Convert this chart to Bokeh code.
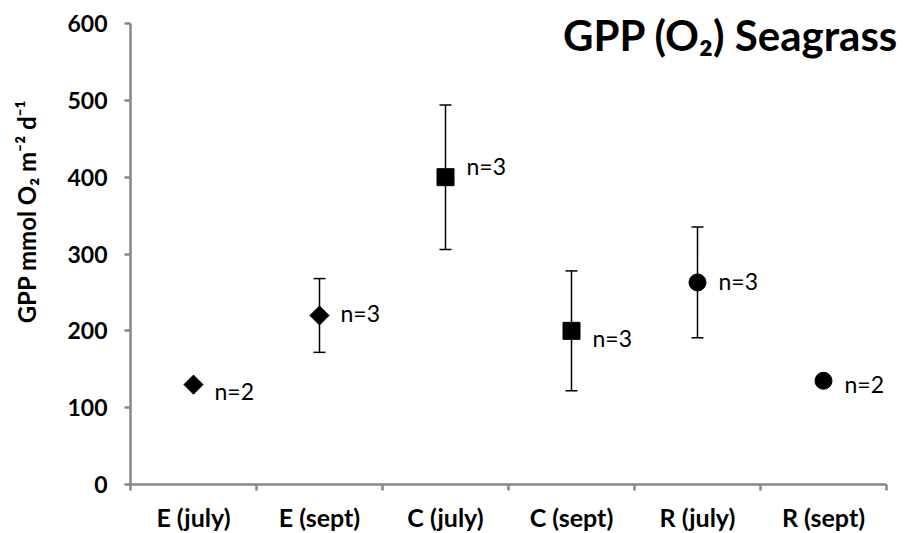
from bokeh.plotting import figure
from bokeh.models import Range1d, FixedTicker, ColumnDataSource, Whisker, TeeHead, Label
from bokeh.core.properties import value
from bokeh.embed import file_html
from bokeh.resources import INLINE

# ---- data ----
categories = ["E (july)", "E (sept)", "C (july)", "C (sept)", "R (july)", "R (sept)"]
gpp = [130, 220, 400, 200, 263, 135]
err = [0, 48, 94, 78, 72, 0]
n_labels = ["n=2", "n=3", "n=3", "n=3", "n=3", "n=2"]
y_ticks = [0, 100, 200, 300, 400, 500, 600]
y_max = 600

# ---- styles / layout ----
markers = ["square", "square", "square", "square", "circle", "circle"]
angles = [0.785398, 0.785398, 0, 0, 0, 0]
sizes = [13.5, 13.5, 17, 17, 17, 17]
label_dy = [6, -2, -11, 7, -1, 3]

W, H = 906, 533
PLOT_L, PLOT_R, PLOT_T, PLOT_B = 130, 886, 23, 484   # axes box in pixels
FONT = "Lato"
AXIS_GRAY = "#878787"

ncat = len(categories)
px_per_x = (PLOT_R - PLOT_L) / ncat
px_per_y = (PLOT_B - PLOT_T) / y_max
x_range = Range1d(-PLOT_L / px_per_x, (W - PLOT_L) / px_per_x)
y_range = Range1d(-(H - PLOT_B) / px_per_y, y_max + PLOT_T / px_per_y)

xs = [i + 0.5 for i in range(ncat)]
has_err = [e > 0 for e in err]

src = ColumnDataSource(dict(
    x=xs, y=gpp, marker=markers, angle=angles, size=sizes,
    label=n_labels, dy=label_dy,
))
err_src = ColumnDataSource(dict(
    x=[x for x, h in zip(xs, has_err) if h],
    upper=[g + e for g, e, h in zip(gpp, err, has_err) if h],
    lower=[g - e for g, e, h in zip(gpp, err, has_err) if h],
))

p = figure(width=W, height=H, output_backend="svg", toolbar_location=None,
           x_range=x_range, y_range=y_range,
           min_border_left=0, min_border_right=0, min_border_top=0,
           min_border_bottom=0, title=None)
p.outline_line_color = None
p.xgrid.visible = False
p.ygrid.visible = False
p.background_fill_color = "white"
p.border_fill_color = "white"

# y axis
ya = p.yaxis[0]
ya.fixed_location = 0
ya.bounds = (0, y_max)
ya.ticker = FixedTicker(ticks=y_ticks, minor_ticks=[])
ya.axis_line_color = AXIS_GRAY
ya.axis_line_width = 2.5
ya.major_tick_line_color = AXIS_GRAY
ya.major_tick_line_width = 2.5
ya.major_tick_out = 6
ya.major_tick_in = 0
ya.minor_tick_line_color = None
ya.major_label_text_font = FONT
ya.major_label_text_font_style = "bold"
ya.major_label_text_font_size = "23px"
ya.major_label_text_color = "black"
ya.major_label_standoff = 17

# x axis
xa = p.xaxis[0]
xa.fixed_location = 0
xa.bounds = (0, ncat)
xa.ticker = FixedTicker(ticks=xs, minor_ticks=list(range(ncat + 1)))
xa.major_label_overrides = {x: c for x, c in zip(xs, categories)}
xa.axis_line_color = AXIS_GRAY
xa.axis_line_width = 2.5
xa.major_tick_line_color = None
xa.major_tick_out = 0
xa.major_tick_in = 0
xa.minor_tick_line_color = AXIS_GRAY
xa.minor_tick_line_width = 2.5
xa.minor_tick_out = 6
xa.minor_tick_in = 0
xa.major_label_text_font = FONT
xa.major_label_text_font_style = "bold"
xa.major_label_text_font_size = "25px"
xa.major_label_text_color = "black"
xa.major_label_standoff = 11

# error bars
w = Whisker(source=err_src, base="x", upper="upper", lower="lower", dimension="height",
            line_color="black", line_width=1.5,
            upper_head=TeeHead(size=12, line_color="black", line_width=1.5),
            lower_head=TeeHead(size=12, line_color="black", line_width=1.5))
p.add_layout(w)

# markers
p.scatter(x="x", y="y", marker="marker", angle="angle", size="size", source=src,
          fill_color="black", line_color="black", line_width=1)

# n labels
p.text(x="x", y="y", text="label", source=src, x_offset=21, y_offset="dy",
       text_font=value(FONT), text_font_size="23px", text_color="black",
       text_align="left", text_baseline="middle")

# title inside plot (top right)
title = Label(x=W - 8, y=H - 34, x_units="screen", y_units="screen",
              text="GPP (O\u2082) Seagrass", text_font=FONT,
              text_font_style="bold", text_font_size="42px", text_color="black",
              text_align="right", text_baseline="alphabetic")
p.add_layout(title)

# y axis title
ylab = Label(x=26, y=H - 211, x_units="screen", y_units="screen",
             text="GPP mmol O\u2082 m\u207b\u00b2 d\u207b\u00b9", text_font=FONT,
             text_font_style="bold", text_font_size="24px", text_color="black",
             angle=1.5707963, text_align="center", text_baseline="middle")
p.add_layout(ylab)

open("out.html", "w").write(file_html(p, INLINE))
